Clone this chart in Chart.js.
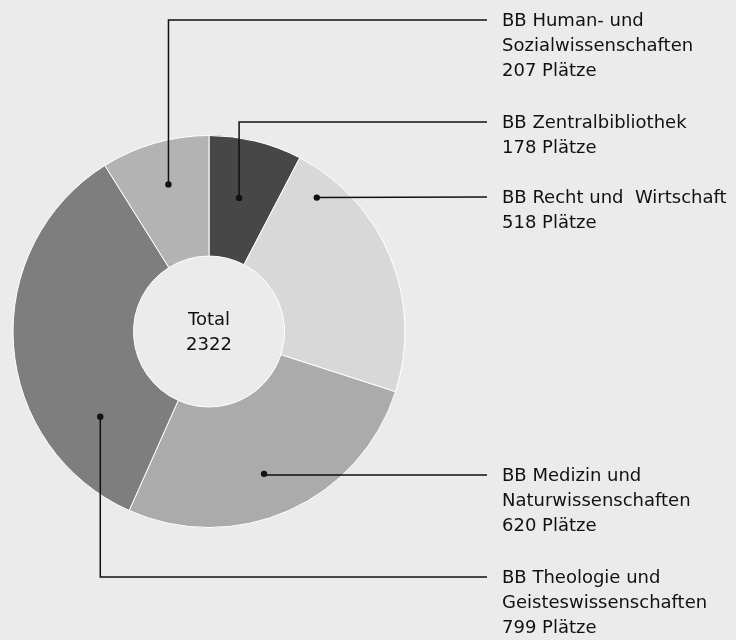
<!DOCTYPE html>
<html>
<head>
<meta charset="utf-8">
<script src="https://cdn.jsdelivr.net/npm/chart.js@4/dist/chart.umd.min.js"></script>
<style>
  html, body { margin: 0; padding: 0; background: #ebebeb; }
  #wrap { width: 736px; height: 640px; }
</style>
</head>
<body>
<div id="wrap"><canvas id="seatChart" width="736" height="640"></canvas></div>
<script>
// Data (clockwise from 12 o'clock)
const categories = [
    ['BB Zentralbibliothek'],
    ['BB Recht und  Wirtschaft'],
    ['BB Medizin und', 'Naturwissenschaften'],
    ['BB Theologie und', 'Geisteswissenschaften'],
    ['BB Human- und', 'Sozialwissenschaften']
];
const seats = [178, 518, 620, 799, 207];
const unitLabel = 'Plätze';
const totalLabel = 'Total';

const sliceColors = ['#474747', '#d8d8d8', '#ababab', '#7e7e7e', '#b3b3b3'];

// Callout layout: where the dot sits inside each slice (fraction of angle / ring depth)
// and where the label's first line lands
const callouts = [
    { angleFrac: 0.46, depthFrac: 0.51, labelY: 122 },
    { angleFrac: 0.14, depthFrac: 0.80, labelY: 197 },
    { angleFrac: 0.53, depthFrac: 0.64, labelY: 475 },
    { angleFrac: 0.225, depthFrac: 0.52, labelY: 577 },
    { angleFrac: 0.52, depthFrac: 0.64, labelY: 20 }
];
const labelX = 502;
const lineEndX = 487;
const lineHeight = 25;
const fontSpec = '18px "DejaVu Sans", sans-serif';
const textColor = '#111111';

const calloutPlugin = {
    id: 'callouts',
    afterDraw(chart) {
        const ctx = chart.ctx;
        const arcs = chart.getDatasetMeta(0).data;
        ctx.save();

        // centre text
        const c = arcs[0];
        const total = seats.reduce((s, v) => s + v, 0);
        ctx.font = fontSpec;
        ctx.fillStyle = textColor;
        ctx.textAlign = 'center';
        ctx.textBaseline = 'middle';
        ctx.fillText(totalLabel, c.x, c.y - lineHeight / 2 + 1);
        ctx.fillText(String(total), c.x, c.y + lineHeight / 2 + 1);

        arcs.forEach((arc, i) => {
            const co = callouts[i];
            const ang = arc.startAngle + (arc.endAngle - arc.startAngle) * co.angleFrac;
            const r = arc.innerRadius + (arc.outerRadius - arc.innerRadius) * co.depthFrac;
            const px = arc.x + Math.cos(ang) * r;
            const py = arc.y + Math.sin(ang) * r;

            ctx.strokeStyle = '#111';
            ctx.lineWidth = 1.5;
            ctx.beginPath();
            ctx.moveTo(px, py);
            if (Math.abs(py - co.labelY) > 1) ctx.lineTo(px, co.labelY);
            ctx.lineTo(lineEndX, co.labelY);
            ctx.stroke();

            ctx.fillStyle = '#111';
            ctx.beginPath();
            ctx.arc(px, py, 3.2, 0, Math.PI * 2);
            ctx.fill();

            const lines = categories[i].concat([seats[i] + ' ' + unitLabel]);
            ctx.fillStyle = textColor;
            ctx.textAlign = 'left';
            ctx.textBaseline = 'middle';
            lines.forEach((t, k) => ctx.fillText(t, labelX, co.labelY + k * lineHeight + 1));
        });
        ctx.restore();
    }
};

new Chart(document.getElementById('seatChart'), {
    type: 'doughnut',
    data: {
        labels: categories.map(c => c.join(' ')),
        datasets: [{
            data: seats,
            backgroundColor: sliceColors,
            borderColor: '#ffffff',
            borderWidth: 1,
            hoverOffset: 0
        }]
    },
    options: {
        responsive: false,
        animation: false,
        cutout: '38.5%',
        layout: { padding: { left: 12, right: 330, top: 135, bottom: 112 } },
        plugins: {
            legend: { display: false },
            tooltip: { enabled: false }
        }
    },
    plugins: [calloutPlugin]
});
</script>
</body>
</html>
